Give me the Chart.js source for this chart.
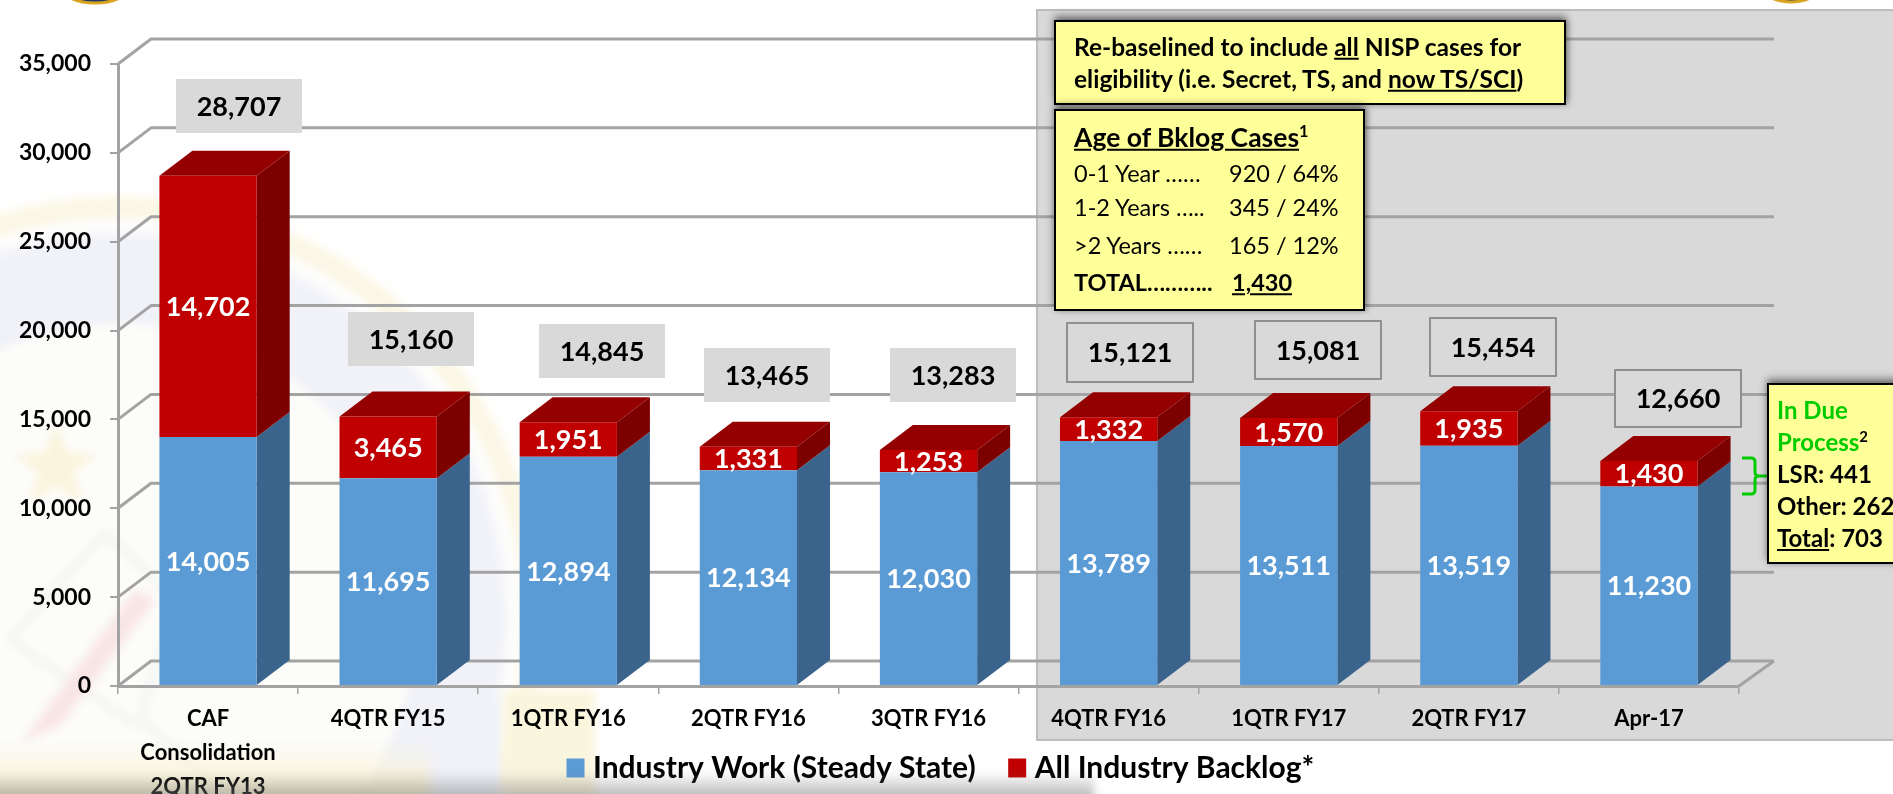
<!DOCTYPE html>
<html>
<head>
<meta charset="utf-8">
<title>Industry Work and Backlog</title>
<script src="https://cdn.jsdelivr.net/npm/chart.js@4/dist/chart.umd.min.js"></script>
<style>
html,body{margin:0;padding:0;width:1893px;height:794px;overflow:hidden;background:#fff;}
#wrap{position:relative;width:1893px;height:794px;overflow:hidden;font-family:Lato,sans-serif;}
canvas{position:absolute;left:0;top:0;}
.note{position:absolute;background:#ffff99;border:2px solid #000;box-sizing:border-box;box-shadow:0 -4px 8px rgba(0,0,0,.45),2px 0 6px rgba(0,0,0,.25);color:#000;}
.ln{position:absolute;white-space:pre;line-height:1;transform:translateY(-50%);}
.b{font-weight:700;}
sup{font-size:.62em;line-height:0;vertical-align:super;}
u{text-decoration-thickness:2px;text-underline-offset:2px;}
</style>
</head>
<body>
<div id="wrap">
<canvas id="c" width="1893" height="794"></canvas>
<div class="note" style="left:1054px;top:20px;width:512px;height:85px;">
  <div class="ln b" style="left:18px;top:25px;font-size:24.5px;">Re-baselined to include <u>all</u> NISP cases for</div>
  <div class="ln b" style="left:18px;top:57px;font-size:24.5px;">eligibility (i.e. Secret, TS, and <u>now TS/SCI</u>)</div>
</div>
<div class="note" style="left:1054px;top:109px;width:311px;height:202px;">
  <div class="ln b" style="left:18px;top:26px;font-size:26.5px;"><u>Age of Bklog Cases</u><sup>1</sup></div>
  <div class="ln" style="left:18px;top:63px;font-size:23.5px;">0-1 Year ……</div><div class="ln" style="left:173px;top:63px;font-size:23.5px;">920 / 64%</div>
  <div class="ln" style="left:18px;top:97px;font-size:23.5px;">1-2 Years …..</div><div class="ln" style="left:173px;top:97px;font-size:23.5px;">345 / 24%</div>
  <div class="ln" style="left:18px;top:135px;font-size:23.5px;">&gt;2 Years ……</div><div class="ln" style="left:173px;top:135px;font-size:23.5px;">165 / 12%</div>
  <div class="ln b" style="left:18px;top:172px;font-size:23.5px;">TOTAL………..</div><div class="ln b" style="left:176px;top:172px;font-size:23.5px;"><u>1,430</u></div>
</div>
<div class="note" style="left:1767px;top:383px;width:160px;height:181px;">
  <div class="ln b" style="left:8px;top:25px;font-size:24px;color:#00cc00;">In Due</div>
  <div class="ln b" style="left:8px;top:57px;font-size:24px;color:#00cc00;">Process<sup style="color:#000">2</sup></div>
  <div class="ln b" style="left:8px;top:89px;font-size:24px;">LSR: 441</div>
  <div class="ln b" style="left:8px;top:121px;font-size:24px;">Other: 262</div>
  <div class="ln b" style="left:8px;top:153px;font-size:24px;"><u>Total</u>: 703</div>
</div>
</div>
<script>
// ---- data ----
const categories = [['CAF','Consolidation','2QTR FY13'],'4QTR FY15','1QTR FY16','2QTR FY16','3QTR FY16','4QTR FY16','1QTR FY17','2QTR FY17','Apr-17'];
const industryWork = [14005,11695,12894,12134,12030,13789,13511,13519,11230];
const industryBacklog = [14702,3465,1951,1331,1253,1332,1570,1935,1430];
const seriesNames = ['Industry Work (Steady State)','All Industry Backlog*'];
const yTicks = [0,5000,10000,15000,20000,25000,30000,35000];

// ---- layout of the decorations ----
const FONT = 'Lato, sans-serif';
const DX = 33, DY = 25;
const GRID_END = 1774;
const totalBoxCentersX = [239,411,602,767,953,1130,1318,1493,1678];
const totalBoxTops = [79,312,324,348,348,323,321,318,370];
const totalBoxHeights = [54,54,54,54,54,59,58,58,57];
const outlinedFrom = 5;   // boxes from this index have a grey outline
const COL = {blue:'#5b9bd5',red:'#c00000',blueSide:'#3a648c',redSide:'#7c0000',redTop:'#940000',grid:'#a3a3a3',panel:'#d9d9d9'};
const fmt = v => v.toLocaleString('en-US');

function poly(ctx, pts, fill){
  ctx.beginPath();
  pts.forEach((p,i)=> i?ctx.lineTo(p[0],p[1]):ctx.moveTo(p[0],p[1]));
  ctx.closePath();
  ctx.fillStyle = fill; ctx.fill();
}

function drawSeal(ctx){
  ctx.save();
  ctx.filter='blur(5px)';
  const cx=120, cy=620;
  ctx.beginPath(); ctx.arc(cx,cy,424,0,Math.PI*2); ctx.fillStyle='#fbf7e6'; ctx.fill();
  ctx.beginPath(); ctx.arc(cx,cy,402,0,Math.PI*2); ctx.fillStyle='#fdfdfc'; ctx.fill();
  ctx.beginPath(); ctx.arc(cx,cy,386,0,Math.PI*2); ctx.fillStyle='#f1f2f8'; ctx.fill();
  ctx.beginPath(); ctx.arc(cx,cy,296,0,Math.PI*2); ctx.fillStyle='#fcfcf9'; ctx.fill();
  // star
  const sx=56, sy=467, R=44, r=18;
  const star=[]; for(let i=0;i<10;i++){const a=-Math.PI/2+i*Math.PI/5, q=i%2?r:R; star.push([sx+q*Math.cos(a),sy+q*Math.sin(a)]);}
  poly(ctx,star,'#faf4dc');
  // shield outline
  ctx.strokeStyle='#e9e9e9'; ctx.lineWidth=3;
  ctx.beginPath(); ctx.moveTo(10,640); ctx.lineTo(105,533); ctx.lineTo(175,600); ctx.lineTo(140,720); ctx.lineTo(200,770); ctx.moveTo(10,640); ctx.lineTo(135,725); ctx.stroke();
  // arrow
  poly(ctx,[[22,742],[135,590],[155,600],[60,725]],'#f8e4e4');
  // vertical bands
  ctx.fillStyle='#f0f2f9'; ctx.fillRect(442,700,60,110);
  ctx.fillStyle='#faf5dd'; ctx.fillRect(503,690,92,120);
  // lower cream glow
  const g=ctx.createLinearGradient(0,740,0,790); g.addColorStop(0,'rgba(250,244,215,0)'); g.addColorStop(1,'rgba(250,240,200,.8)');
  ctx.fillStyle=g; ctx.fillRect(-20,740,450,70);
  ctx.restore();
}

const decor = {
  id:'decor',
  afterLayout(chart){
    // legend overlaps the axis-label strip, as in the reference
    const l = chart.legend;
    l.left = 534; l.right = 1893; l.width = 1893-534;
    l.top = 714; l.bottom = 794; l.height = 80;
    // leave room for the three-line first category label
    const s = chart.scales.x;
    s.bottom = 794; s.height = 794 - s.top;
  },
  beforeDraw(chart){
    const ctx = chart.ctx;
    ctx.save();
    ctx.fillStyle='#fff'; ctx.fillRect(0,0,1893,794);
    drawSeal(ctx);
    // top corner emblems
    [[95,-12,33,15],[1791,-14,29,16]].forEach(e=>{
      ctx.beginPath(); ctx.ellipse(e[0],e[1],e[2],e[3],0,0,Math.PI*2);
      ctx.fillStyle='#1f3864'; ctx.fill(); ctx.lineWidth=3; ctx.strokeStyle='#d9a520'; ctx.stroke();
    });
    // shaded panel
    ctx.fillStyle=COL.panel; ctx.fillRect(1037,10,900,730);
    ctx.strokeStyle='#bdbdbd'; ctx.lineWidth=2; ctx.strokeRect(1037,10,900,730);
    ctx.restore();
  },
  beforeDatasetsDraw(chart){
    const ctx = chart.ctx, y = chart.scales.y, x0 = chart.chartArea.left, xr = chart.chartArea.right;
    ctx.save();
    ctx.strokeStyle=COL.grid; ctx.lineWidth=3; ctx.lineJoin='round'; ctx.lineCap='butt';
    yTicks.forEach(v=>{
      const py = y.getPixelForValue(v);
      ctx.beginPath(); ctx.moveTo(x0,py); ctx.lineTo(x0+DX,py-DY); ctx.lineTo(GRID_END,py-DY); ctx.stroke();
    });
    // right edge of the floor
    const p0 = y.getPixelForValue(0);
    ctx.beginPath(); ctx.moveTo(xr,p0); ctx.lineTo(GRID_END,p0-DY); ctx.stroke();
    // total boxes sit behind the bars
    chart.data.labels.forEach((_,i)=>{
      const total = industryWork[i]+industryBacklog[i];
      const cx = totalBoxCentersX[i], t = totalBoxTops[i], h = totalBoxHeights[i];
      ctx.fillStyle=COL.panel; ctx.fillRect(cx-63,t,126,h);
      if(i>=outlinedFrom){ ctx.strokeStyle='#8f8f8f'; ctx.lineWidth=2; ctx.strokeRect(cx-63,t,126,h); }
      ctx.fillStyle='#000'; ctx.font='700 27px '+FONT; ctx.textAlign='center'; ctx.textBaseline='middle';
      ctx.fillText(fmt(total),cx,t+h/2+1);
    });
    // 3-D side and top faces
    const sides=[COL.blueSide,COL.redSide];
    chart.data.datasets.forEach((ds,d)=>{
      chart.getDatasetMeta(d).data.forEach(b=>{
        const R=b.x+b.width/2, L=b.x-b.width/2;
        poly(ctx,[[R,b.y],[R+DX,b.y-DY],[R+DX,b.base-DY],[R,b.base]],sides[d]);
        if(d===1) poly(ctx,[[L,b.y],[L+DX,b.y-DY],[R+DX,b.y-DY],[R,b.y]],COL.redTop);
      });
    });
    ctx.restore();
  },
  afterDatasetsDraw(chart){
    const ctx = chart.ctx;
    ctx.save();
    ctx.fillStyle='#fff'; ctx.font='700 27px '+FONT; ctx.textAlign='center'; ctx.textBaseline='middle';
    chart.data.datasets.forEach((ds,d)=>{
      chart.getDatasetMeta(d).data.forEach((b,i)=>{
        ctx.fillText(fmt(ds.data[i]),b.x,(b.y+b.base)/2+1);
      });
    });
    // green brace towards the "In Due Process" note
    ctx.strokeStyle='#00cc00'; ctx.lineWidth=3;
    ctx.beginPath();
    ctx.moveTo(1742,458); ctx.lineTo(1751,458); ctx.quadraticCurveTo(1755,458,1755,462);
    ctx.lineTo(1755,472); ctx.quadraticCurveTo(1755,476,1759,476); ctx.lineTo(1767,476);
    ctx.moveTo(1759,476); ctx.quadraticCurveTo(1755,476,1755,480); ctx.lineTo(1755,490);
    ctx.quadraticCurveTo(1755,494,1751,494); ctx.lineTo(1742,494);
    ctx.stroke();
    ctx.restore();
  },
  afterDraw(chart){
    const ctx = chart.ctx;
    ctx.save();
    ctx.filter='blur(4px)';
    const g=ctx.createLinearGradient(0,772,0,796);
    g.addColorStop(0,'rgba(120,120,120,0)'); g.addColorStop(1,'rgba(120,120,120,.5)');
    ctx.fillStyle=g; ctx.fillRect(-20,772,1114,40);
    ctx.restore();
  }
};

new Chart(document.getElementById('c'),{
  type:'bar',
  data:{
    labels:categories,
    datasets:[
      {label:seriesNames[0],data:industryWork,backgroundColor:COL.blue,stack:'s'},
      {label:seriesNames[1],data:industryBacklog,backgroundColor:COL.red,stack:'s'}
    ]
  },
  plugins:[decor],
  options:{
    responsive:false,
    animation:false,
    devicePixelRatio:1,
    layout:{padding:{left:0,top:64,right:154,bottom:0}},
    datasets:{bar:{barPercentage:1,categoryPercentage:0.54}},
    plugins:{
      tooltip:{enabled:false},
      title:{display:false},
      legend:{
        display:true,position:'bottom',align:'start',maxHeight:40,
        labels:{
          boxWidth:5,boxHeight:6,padding:39,color:'#000',font:{family:FONT,weight:'700',size:30},
          generateLabels:chart=>chart.data.datasets.map((ds,i)=>({
            text:ds.label,fontColor:'#000',fillStyle:ds.backgroundColor,strokeStyle:ds.backgroundColor,
            lineWidth:13,hidden:false,datasetIndex:i
          }))
        }
      }
    },
    scales:{
      x:{
        stacked:true,
        afterFit(s){ s.height = 68; },
        grid:{display:true,drawOnChartArea:false,color:'#a3a3a3',lineWidth:1.5,tickLength:8,offset:true},
        border:{display:true,color:'#a3a3a3',width:3},
        ticks:{color:'#000',padding:8,maxRotation:0,autoSkip:false,font:{family:FONT,weight:'700',size:22,lineHeight:1.55}}
      },
      y:{
        stacked:true,min:0,max:35000,
        afterBuildTicks(s){ s.ticks = yTicks.map(v=>({value:v})); },
        afterFit(s){ s.width = 118; },
        grid:{display:true,drawOnChartArea:false,color:'#a3a3a3',lineWidth:2,tickLength:8},
        border:{display:true,color:'#a3a3a3',width:3},
        ticks:{color:'#000',padding:19,callback:v=>fmt(v),font:{family:FONT,weight:'700',size:23}}
      }
    }
  }
});
</script>
</body>
</html>
